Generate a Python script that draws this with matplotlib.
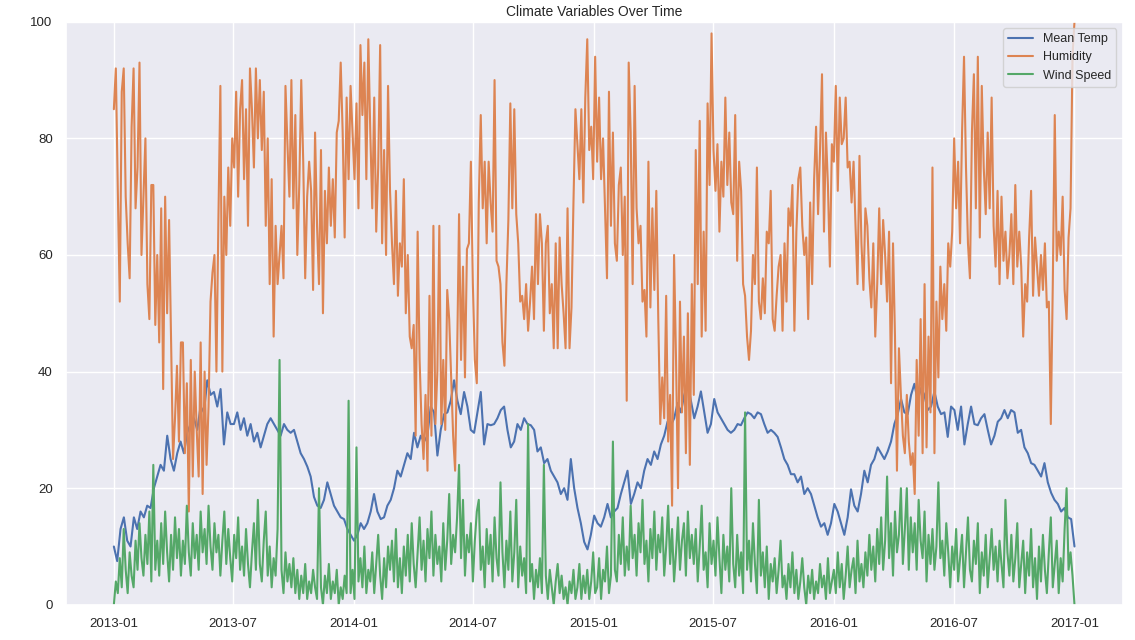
import matplotlib
matplotlib.use("Agg")
import matplotlib.pyplot as plt
import matplotlib.dates as mdates
import seaborn as sns
import pandas as pd

# mean temperature, ~6 readings per month (Jan 2013 .. Dec 2016) + last day
meantemp = [
    10, 7.5, 13, 15, 11, 10,   15, 13, 16, 15, 17, 16.6,   20, 22, 24, 23, 29, 25,
    23, 26, 28, 26, 29.5, 31,   32, 30, 34, 33, 38.5, 36,   36.5, 34, 37, 27.5, 33, 31,
    31, 33, 30, 32, 29, 31,   28, 29.5, 27, 29, 31, 32,   31, 30, 29, 31, 30, 29.5,
    30, 28, 26, 25, 23.7, 22,   18.5, 17, 16.6, 18, 21, 19,   17, 16, 15, 14.7, 13, 12,
    11, 12, 14, 13, 14, 16,   19, 16, 14.7, 15, 17, 18,   20, 23, 22, 24, 26, 25,
    29.5, 27, 29, 28, 29, 34,   33, 25.6, 30, 32.7, 33, 35,   38.5, 35, 32.7, 36.5, 34, 30,
    29.5, 33, 36.5, 27.5, 31, 30.8,   31, 32, 33.4, 34, 30, 27,   28, 31, 30, 32, 31, 30.8,
    30, 26.3, 27, 24.3, 25, 23,   22, 21, 19, 20, 18, 25,   20, 16.6, 14, 10.8, 9.5, 12,
    15.3, 14, 13.4, 15, 17.3, 15,   16, 16.6, 19, 21, 23, 17.3,   19, 21, 20, 23, 25, 24,
    26.3, 25, 27.5, 29, 31.4, 30.8,   32, 34.6, 33, 36, 37.9, 35,   32, 34, 36.6, 33, 29.5, 31,
    35.3, 33, 32, 31, 30, 29.5,   30, 31, 30.8, 32, 33, 32.7,   32, 33, 32.7, 31, 29.5, 30,
    29.5, 28.8, 27, 25, 24, 22.4,   22.4, 21, 22, 19, 20, 19,   17, 15, 13.4, 14, 12, 14,
    17.3, 16, 14, 12, 15, 19.8,   17, 16, 19, 23, 21, 24,   25, 27, 26, 25, 26.3, 28,
    31, 32.7, 35.3, 33, 32.7, 36,   37.9, 35, 37.2, 36, 33.4, 34,   36.6, 34, 32.7, 33, 28.8, 34,
    33.4, 30, 34, 27.5, 31, 34,   31, 30.8, 32, 32.7, 30, 27.5,   29, 31.4, 32, 33.4, 32, 33.4,
    33, 29.5, 30, 27, 26, 24.3,   24, 23, 22, 24.3, 21, 19.2,   18, 17.3, 16, 16.6, 15, 14.7,
    10,
]

# humidity, one reading every 3 days
humidity = [
    85, 92, 71, 52, 88,   92, 70, 62, 56, 82,   92, 68, 75, 93, 60,   70, 80, 55, 49, 72,
    72, 48, 60, 45, 68,   37, 70, 50, 66, 45,   25, 32, 41, 28, 45,   45, 26, 38, 16, 42,
    22, 40, 30, 22, 45,   19, 40, 24, 34, 52,   57, 60, 40, 66, 89,   40, 70, 60, 75, 65,
    80, 75, 88, 70, 85,   90, 73, 85, 65, 92,   85, 75, 92, 80, 90,   78, 88, 65, 80, 55,
    73, 46, 65, 55, 60,   65, 56, 89, 79, 70,   90, 68, 84, 60, 72,   90, 76, 56, 70, 76,
    71, 54, 81, 65, 55,   78, 50, 71, 62, 75,   65, 73, 63, 81, 83,   93, 81, 63, 87, 73,
    89, 81, 73, 86, 68,   96, 84, 93, 73, 97,   81, 68, 87, 64, 75,   96, 62, 78, 60, 89,
    71, 62, 55, 71, 53,   62, 58, 73, 50, 60,   46, 44, 48, 29, 64,   42, 31, 25, 36, 23,
    53, 29, 65, 31, 40,   65, 31, 42, 30, 54,   49, 39, 29, 23, 42,   67, 42, 58, 39, 61,
    62, 76, 55, 42, 38,   69, 84, 68, 76, 62,   76, 69, 64, 90, 59,   58, 55, 45, 41, 55,
    66, 86, 68, 85, 67,   62, 52, 53, 49, 55,   47, 52, 58, 49, 67,   55, 67, 62, 47, 62,
    65, 50, 55, 44, 62,   44, 63, 55, 50, 44,   68, 44, 51, 69, 85,   79, 73, 85, 69, 87,
    97, 78, 82, 73, 94,   76, 87, 73, 80, 68,   56, 88, 65, 81, 62,   59, 72, 75, 60, 70,
    35, 93, 81, 55, 89,   68, 62, 65, 52, 54,   46, 76, 51, 68, 54,   71, 49, 31, 39, 32,
    53, 28, 36, 17, 60,   42, 20, 52, 33, 46,   26, 50, 24, 55, 36,   78, 55, 83, 46, 64,
    47, 86, 72, 98, 78,   71, 79, 64, 76, 70,   87, 72, 81, 69, 67,   84, 59, 76, 71, 55,
    53, 46, 42, 47, 60,   55, 75, 52, 49, 56,   50, 64, 62, 71, 49,   47, 53, 58, 60, 47,
    62, 52, 68, 65, 72,   47, 64, 73, 75, 65,   60, 63, 49, 69, 55,   73, 82, 67, 78, 91,
    64, 81, 72, 58, 79,   76, 89, 71, 87, 79,   80, 87, 75, 76, 69,   76, 65, 55, 77, 62,
    54, 68, 65, 56, 51,   62, 46, 55, 68, 55,   66, 60, 52, 64, 38,   62, 46, 23, 44, 36,
    29, 26, 36, 28, 24,   26, 19, 42, 29, 49,   26, 55, 27, 46, 33,   75, 26, 52, 39, 58,
    49, 55, 47, 62, 58,   64, 80, 68, 76, 62,   81, 94, 75, 62, 56,   81, 91, 68, 94, 63,
    89, 75, 67, 81, 68,   87, 65, 58, 71, 55,   70, 59, 64, 56, 60,   67, 55, 72, 58, 64,
    58, 46, 55, 52, 63,   71, 53, 63, 58, 53,   60, 54, 62, 51, 52,   31, 55, 84, 59, 64,
    60, 70, 54, 49, 63,   68, 94, 100,
]

# wind speed, one reading every 3 days
wind_speed = [
    0, 4, 2, 8, 3,   13, 6, 2, 9, 5,   3, 11, 6, 14, 8,   5, 12, 7, 16, 4,
    24, 6, 11, 5, 14,   7, 16, 9, 4, 12,   6, 15, 8, 13, 5,   11, 7, 17, 9, 5,
    14, 8, 12, 6, 16,   9, 13, 7, 17, 10,   6, 14, 9, 12, 5,   11, 16, 7, 13, 8,
    4, 12, 8, 15, 6,   10, 5, 13, 7, 3,   9, 14, 6, 18, 7,   4, 11, 16, 5, 10,
    3, 8, 5, 13, 42,   6, 2, 9, 4, 7,   3, 8, 2, 6, 1,   5, 2, 7, 1, 4,
    2, 6, 3, 1, 20,   3, 0, 5, 2, 7,   1, 4, 2, 6, 0,   3, 1, 5, 2, 35,
    2, 6, 1, 27, 4,   8, 3, 10, 2, 6,   4, 9, 2, 7, 12,   5, 1, 8, 3, 10,
    6, 11, 4, 13, 3,   8, 2, 10, 5, 12,   4, 14, 7, 3, 9,   15, 6, 11, 4, 13,
    8, 16, 5, 12, 7,   10, 4, 14, 6, 11,   19, 7, 12, 9, 15,   24, 8, 18, 5, 12,
    9, 14, 4, 11, 16,   18, 6, 10, 3, 13,   7, 12, 4, 15, 8,   5, 21, 9, 3, 11,
    6, 16, 4, 9, 18,   3, 10, 5, 8, 2,   31, 4, 7, 1, 6,   3, 8, 2, 24, 5,
    1, 6, 3, 0, 4,   7, 2, 5, 1, 3,   0, 4, 2, 6, 1,   3, 7, 1, 5, 2,
    6, 1, 4, 9, 2,   3, 8, 1, 6, 4,   10, 2, 5, 28, 6,   4, 12, 7, 15, 5,
    10, 6, 17, 8, 12,   5, 14, 9, 18, 7,   11, 4, 13, 8, 16,   6, 12, 9, 15, 5,
    10, 17, 7, 13, 4,   9, 15, 6, 11, 14,   5, 16, 8, 12, 7,   13, 4, 10, 17, 6,
    9, 3, 14, 7, 11,   5, 15, 8, 2, 12,   6, 10, 4, 20, 7,   3, 12, 5, 9, 2,
    33, 6, 11, 4, 14,   7, 2, 18, 5, 9,   3, 10, 1, 7, 4,   8, 2, 6, 11, 3,
    5, 1, 7, 3, 9,   2, 6, 1, 4, 8,   3, 0, 5, 2, 6,   1, 4, 2, 7, 3,
    5, 1, 8, 2, 4,   6, 2, 9, 3, 7,   1, 5, 10, 3, 6,   8, 2, 11, 4, 7,
    3, 9, 5, 12, 6,   10, 4, 13, 7, 15,   6, 11, 22, 8, 14,   5, 16, 9, 12, 20,
    7, 13, 20, 6, 15,   9, 14, 6, 18, 11,   8, 16, 4, 12, 7,   13, 6, 10, 21, 8,
    11, 5, 14, 9, 3,   10, 6, 13, 4, 8,   12, 3, 9, 15, 6,   4, 11, 7, 14, 2,
    9, 5, 12, 3, 8,   13, 6, 10, 4, 11,   7, 3, 18, 9, 5,   12, 4, 8, 14, 3,
    7, 11, 2, 9, 5,   13, 3, 8, 1, 10,   4, 12, 6, 2, 9,   15, 3, 7, 11, 2,
    8, 4, 13, 20, 6,   9, 5, 0,
]

start, end = "2013-01-01", "2017-01-01"
temp_dates = pd.date_range(start, end, periods=len(meantemp))
dates_3d = pd.date_range(start, end, periods=len(humidity))

sns.set_theme(style="darkgrid")
plt.rcParams["font.family"] = ["Liberation Sans", "DejaVu Sans"]

fig = plt.figure(figsize=(11.35, 6.4), dpi=100)
ax = fig.add_axes([0.058, 0.055, 0.931, 0.911])

ax.plot(temp_dates, meantemp, label="Mean Temp", lw=1.5)
ax.plot(dates_3d, humidity, label="Humidity", lw=1.5)
ax.plot(dates_3d, wind_speed, label="Wind Speed", lw=1.5)

ax.set_ylim(0, 100)
ax.xaxis.set_major_locator(mdates.MonthLocator(bymonth=[1, 7]))
ax.xaxis.set_major_formatter(mdates.DateFormatter("%Y-%m"))
ax.tick_params(labelsize=9.5)
ax.set_title("Climate Variables Over Time", fontsize=10, pad=4)
ax.legend(loc="upper right", fontsize=9)

fig.savefig("out.png", dpi=100)
